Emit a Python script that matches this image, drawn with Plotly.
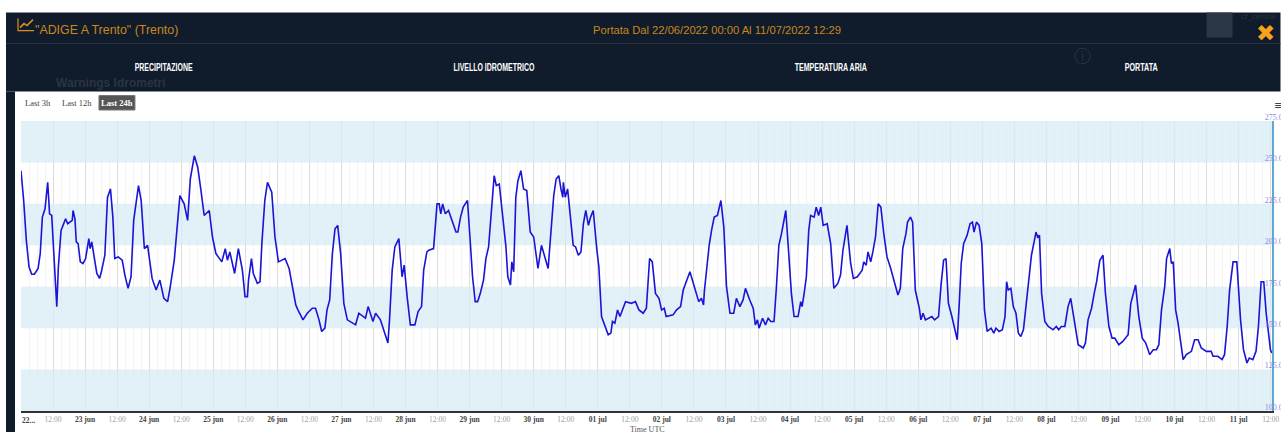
import pandas as pd
import plotly.graph_objects as go

W, H = 1281, 432
PLOT_L, PLOT_R, PLOT_T, PLOT_B = 21, 1272.5, 120.5, 410.7

# hours since 22/06/2022 00:00
hours = [0, 1, 2, 3, 4, 5, 6.4, 7.2, 8, 9, 10, 10.7, 11.5, 12.3, 13.4, 14, 15, 16.7, 17.5, 19.2,
         19.5, 20.2, 20.7, 21.4, 22.2, 23.2, 24.2, 25.4, 25.9, 26.5, 27.4, 28.4, 29.4, 30.1, 31.4, 32.4, 33.5, 34.4, 35.1, 36.4,
         37.9, 38.9, 40.1, 41.2, 42.2, 43.1, 44, 45, 46.2, 47.4, 49.1, 50.6, 52, 53.5, 54.9, 55.8, 57.4, 59.5, 61.1, 62.4,
         63.4, 64.9, 66.2, 67.4, 68.6, 70.5, 71.7, 73, 74.2, 75.2, 76.5, 77.3, 78.2, 80, 81.4, 82.9, 83.9, 84.8, 85.2, 86.3,
         87, 88.5, 89.5, 90.2, 91.3, 92.3, 93.9, 95.1, 96.4, 98.9, 100.4, 101.6, 102.9, 103.7, 105.6, 107.2, 109.1, 110.3, 111.6, 112.6,
         113.8, 114.6, 115.6, 116.6, 117.6, 118.6, 119.7, 120.9, 122.2, 125.3, 126.5, 129, 130, 131.8, 132.8, 134.6, 135.9, 137.4, 138, 139,
         140, 141.5, 142.7, 143.5, 144.6, 145.8, 147.5, 148.7, 150, 150.8, 152, 152.7, 154.5, 155.8, 156.6, 157.2, 157.9, 158.9, 160.1, 161.4,
         162.9, 163.6, 164.6, 165.6, 167.2, 168.2, 169.1, 170.1, 171, 172, 173.2, 174.1, 175.1, 177.2, 178, 179.1, 180.3, 181.6, 182.3, 183.3,
         183.8, 184.5, 185.3, 186.1, 187.2, 188.2, 189.4, 190.7, 192, 193.6, 194.9, 196.4, 197.4, 198.5, 199.5, 200.4, 201.4, 202.2, 202.9, 203.1,
         203.8, 204.7, 205.6, 206.8, 207.7, 208.7, 209.7, 210.6, 211.5, 212.5, 213.3, 214.3, 215.6, 216.4, 217.4, 218.7, 219.9, 220.9, 221.5, 222.4,
         223.4, 224.3, 226.4, 228.6, 230.1, 231.4, 233, 234.2, 234.6, 235.4, 236.4, 237.6, 238.9, 239.9, 240.9, 241.6, 244.2, 245.5, 247, 248,
         250.5, 252.3, 253.8, 254.8, 255.6, 255.9, 257.7, 258.6, 259.6, 260.8, 262.1, 263.2, 264.2, 265.5, 266.9, 267.9, 269.2, 270.4, 271.3, 272.9,
         274.2, 275, 275.8, 276.4, 277.7, 278.8, 279.8, 280.8, 282, 282.9, 283.8, 284.8, 286.4, 287.5, 288.5, 289.5, 291, 292, 292.5, 293.2,
         294.1, 295, 295.7, 297, 297.8, 298.7, 299.5, 300.4, 301.9, 303.2, 304.4, 305.9, 306.9, 307.8, 309.3, 310.7, 311.7, 313.2, 315, 315.6,
         316.5, 317.2, 318.2, 319, 320, 321, 322, 323.1, 324.3, 325.5, 327.4, 328.4, 329.3, 330.2, 331.4, 332, 333.1, 333.9, 334.9, 336.4,
         337, 337.8, 338.7, 341.1, 342.1, 343.6, 344.6, 345.5, 346.4, 347.3, 348.6, 349.6, 350.6, 351.3, 352.1, 353, 354.3, 355.4, 356.3, 356.9,
         357.8, 358.8, 359.8, 360.8, 361.8, 363.3, 364.3, 365.1, 366.3, 367.5, 368.5, 369.1, 369.7, 370.7, 371.6, 372.6, 373.5, 374.4, 375.4, 376.2,
         377.6, 378.4, 380.1, 380.7, 381.4, 382.2, 383.4, 384.7, 386.5, 387.7, 388.6, 389.6, 390.9, 392.1, 393.1, 394.6, 395.9, 397.8, 398.6, 399.6,
         400.9, 401.9, 402.8, 404, 405.2, 406.1, 407.4, 408.6, 409.6, 411.1, 412.6, 414.6, 415.6, 417.4, 418.6, 419.9, 421.2, 422.7, 424, 425.2,
         426.1, 427.1, 428.3, 429, 430.2, 430.8, 431.5, 432.4, 433.3, 435.2, 436.4, 438.3, 439.5, 440.8, 442, 443.9, 445.7, 446.4, 448.2, 449.8,
         450.7, 451.7, 452.6, 453.9, 455.3, 456.7, 457.8, 459.1, 460, 461.3, 462.5, 463.4, 464.4, 465.4, 466.3, 467.9, 468.4]

portata = [245, 227, 203, 187, 182.5, 182.5, 186, 195, 217, 222, 238, 219, 218, 191, 163, 187, 209, 216, 213, 215,
           221, 216, 202, 201, 190, 189, 192, 204, 198, 202, 194, 183, 180, 184, 194, 229, 234, 217, 192, 193,
           191, 182, 174, 181, 215, 226, 236, 227, 198, 200, 180, 173, 179, 168, 166, 174, 191, 230, 225, 215,
           240, 254, 247, 233, 218, 221, 205, 195, 192, 190, 198, 191, 196, 183, 198, 185, 169, 169, 179, 192,
           183, 177, 178, 201, 227, 238, 232, 205, 190, 192, 186, 176, 164, 161, 155, 159, 162, 162, 155, 148,
           150, 161, 167, 195, 210, 212, 195, 165, 155, 152, 159, 156, 163, 154, 159, 155, 148, 141, 155, 185,
           199, 204, 181, 188, 169, 152, 152, 160, 163, 185, 196, 197, 198, 225, 225, 219, 225, 219, 221, 215,
           208, 208, 217, 223, 227, 203, 181, 166, 166, 171, 179, 192, 199, 242, 236, 237, 217, 199, 181, 176,
           190, 184, 229, 239, 245, 234, 233, 208, 205, 186, 200, 192, 186, 209, 230, 240, 242, 234, 229, 238,
           229, 234, 219, 200, 199, 194, 196, 213, 221, 212, 217, 221, 198, 187, 157, 151, 146, 147, 154, 153,
           161, 157, 166, 165, 166, 161, 159, 162, 175, 192, 190, 171, 168, 161, 162, 157, 158, 161, 163, 173,
           184, 174, 166, 168, 164, 172, 200, 209, 217, 218, 227, 211, 175, 159, 159, 168, 163, 167, 174, 167,
           162, 152, 155, 150, 156, 152, 156, 154, 154, 175, 200, 207, 221, 195, 171, 157, 157, 166, 163, 170,
           181, 209, 218, 217, 223, 218, 223, 212, 213, 201, 174, 177, 182, 197, 212, 189, 180, 181, 185, 190,
           188, 196, 190, 196, 205, 225, 223, 207, 193, 187, 176, 170, 174, 198, 207, 214, 217, 214, 173, 162,
           155, 159, 155, 157, 155, 157, 177, 191, 192, 165, 157, 150, 143, 163, 189, 201, 206, 213, 214, 208,
           214, 212, 201, 161, 148, 150, 147, 150, 148, 149, 157, 178, 173, 174, 163, 159, 147, 145, 149, 161,
           181, 194, 208, 205, 206, 171, 154, 151, 149, 151, 149, 151, 151, 163, 168, 153, 140, 138, 141, 155,
           162, 171, 178, 191, 194, 171, 151, 144, 144, 140, 142, 146, 165, 176, 157, 144, 141, 134, 137, 137,
           140, 161, 175, 192, 198, 189, 190, 161, 153, 131, 134, 136, 143, 143, 138, 136, 136, 133, 133, 131,
           134, 151, 173, 190, 190, 155, 137, 129, 132, 131, 136, 151, 178, 178, 159, 137, 135]

y_ticks = [100, 125, 150, 175, 200, 225, 250, 275]
band_edges = [250, 275, 200, 225, 150, 175, 100, 125]
x_tick_labels = ["", "12:00", "23 jun", "12:00", "24 jun", "12:00", "25 jun", "12:00", "26 jun", "12:00",
                 "27 jun", "12:00", "28 jun", "12:00", "29 jun", "12:00", "30 jun", "12:00", "01 jul", "12:00",
                 "02 jul", "12:00", "03 jul", "12:00", "04 jul", "12:00", "05 jul", "12:00", "06 jul", "12:00",
                 "07 jul", "12:00", "08 jul", "12:00", "09 jul", "12:00", "10 jul", "12:00", "11 jul", "12:00"]
nav_labels = ["PRECIPITAZIONE", "LIVELLO IDROMETRICO", "TEMPERATURA ARIA", "PORTATA"]
nav_x = [164, 494, 831, 1142]

start = pd.Timestamp("2022-06-22 00:00")
end = start + pd.Timedelta(hours=468.48)
times = [start + pd.Timedelta(hours=h) for h in hours]
tick_times = [start + pd.Timedelta(hours=12 * i) for i in range(len(x_tick_labels))]


def px(x):
    return (x - PLOT_L) / (PLOT_R - PLOT_L)


def py(y):
    return (PLOT_B - y) / (PLOT_B - PLOT_T)


def fmt_tick(label):
    if label == "12:00":
        return f"<span style='color:#a0a0a0'>{label}</span>"
    return f"<b>{label}</b>"


def page_rect(x0, y0, x1, y1, color):
    return dict(type="rect", xref="paper", yref="paper", x0=px(x0), x1=px(x1), y0=py(y0), y1=py(y1),
                fillcolor=color, line_width=0, layer="below")


def page_text(x, y, text, color, size, family="Liberation Sans", **kw):
    return dict(xref="paper", yref="paper", x=px(x), y=py(y), text=text, showarrow=False,
                xanchor=kw.pop("xanchor", "center"), yanchor="middle",
                font=dict(family=family, size=size, color=color), **kw)


fig = go.Figure()
fig.add_trace(go.Scatter(x=times, y=portata, mode="lines", line=dict(color="#1a14d6", width=1.6),
                         showlegend=False))

shapes = [
    page_rect(6, 12, W, 91, "#101c2b"),
    page_rect(6, 91, 15, H, "#101c2b"),
    page_rect(1207, 12, 1233, 37, "#2b3744"),
    dict(type="line", xref="paper", yref="paper", x0=px(6), x1=px(W), y0=py(43), y1=py(43),
         line=dict(color="#2a3644", width=1), layer="below"),
    # trend icon in the header
    dict(type="path", xref="paper", yref="paper", layer="below", line=dict(color="#d98f1e", width=1.2),
         path=f"M {px(18)} {py(18)} L {px(18)} {py(30)} L {px(34)} {py(30)}"),
    dict(type="path", xref="paper", yref="paper", layer="below", line=dict(color="#d98f1e", width=1.6),
         path=f"M {px(20)} {py(27)} L {px(24)} {py(23)} L {px(27)} {py(25)} L {px(33)} {py(19)}"),
    dict(type="rect", xref="paper", yref="paper", x0=px(99), x1=px(135), y0=py(95), y1=py(109.5),
         fillcolor="#555555", line=dict(color="#777777", width=1), layer="below"),
]
# bands sit over the grid, slightly see-through so only the 12h lines show on them
for low, high in zip(band_edges[0::2], band_edges[1::2]):
    shapes.append(dict(type="rect", xref="x", yref="y", x0=start, x1=end, y0=low, y1=high,
                       fillcolor="rgba(216,235,244,0.75)", line_width=0, layer="between"))

annotations = [
    page_text(33, 29, '"ADIGE A Trento" (Trento)', "#c9871c", 12.4, xanchor="left"),
    page_text(717, 29, "Portata Dal 22/06/2022 00:00 Al 11/07/2022 12:29", "#c9871c", 11.2),
    page_text(1266, 32, "✖", "#f7a11c", 23, family="DejaVu Sans"),
    page_text(54, 82, "<b>Warnings Idrometri</b>", "#2a3440", 12, xanchor="left"),
    page_text(1083, 55, "ⓘ", "#2a3440", 17, family="DejaVu Sans"),
    page_text(1239, 16, "cf_central", "#2a3440", 8, xanchor="left"),
    page_text(38.5, 102, "Last 3h", "#444444", 8.5, family="Liberation Serif"),
    page_text(77, 102, "Last 12h", "#444444", 8.5, family="Liberation Serif"),
    page_text(117, 102, "<b>Last 24h</b>", "#ffffff", 8.5, family="Liberation Serif"),
    page_text(1279, 105, "≡", "#444444", 11, family="DejaVu Sans"),
    page_text(29, 420, "<b>22...</b>", "#444444", 7.5, family="Liberation Serif"),
    page_text(648, 429, "Time UTC", "#555555", 8, family="Liberation Serif"),
]
for label, x in zip(nav_labels, nav_x):
    annotations.append(page_text(x, 66, f"<b>{label}</b>", "#ffffff", 10.5, family="Liberation Sans"))

fig.update_layout(
    width=W,
    height=H,
    margin=dict(l=PLOT_L, r=W - PLOT_R, t=PLOT_T, b=H - PLOT_B, pad=0, autoexpand=False),
    paper_bgcolor="#ffffff",
    plot_bgcolor="rgba(0,0,0,0)",
    shapes=shapes,
    annotations=annotations,
    xaxis=dict(
        type="date",
        automargin=False,
        range=[start, end],
        tickmode="array",
        tickvals=tick_times,
        ticktext=[fmt_tick(t) for t in x_tick_labels],
        tickangle=0,
        tickfont=dict(family="Liberation Serif", size=7.5, color="#444444"),
        ticks="",
        showgrid=True,
        gridcolor="#dcdcdc",
        gridwidth=1,
        minor=dict(showgrid=True, gridcolor="#f3f3f3", gridwidth=1, dtick=3 * 3600000, tick0=start),
        showline=True,
        linecolor="#333333",
        linewidth=2,
        zeroline=False,
    ),
    yaxis=dict(
        automargin=False,
        range=[100, 275],
        side="right",
        tickmode="array",
        tickvals=y_ticks,
        ticktext=[f"{v:.1f}" for v in y_ticks],
        ticklabelposition="inside",
        ticklabeloverflow="allow",
        ticklabelshift=-4,
        ticklabelstandoff=-12,
        tickfont=dict(family="Liberation Serif", size=8, color="#8c8ce6"),
        ticks="",
        showgrid=False,
        showline=True,
        linecolor="#5fa8cf",
        linewidth=1.5,
        zeroline=False,
    ),
)

# the nav font is a condensed one that is not installed, so squeeze the text to its width
post_script = """
document.body.style.margin = '0';
document.body.style.overflow = 'hidden';
document.querySelectorAll('.main-svg').forEach(s => s.style.opacity = 0.999);
const navWidths = {'PRECIPITAZIONE': 58, 'LIVELLO IDROMETRICO': 81, 'TEMPERATURA ARIA': 72, 'PORTATA': 33};
document.querySelectorAll('.annotation-text').forEach(t => {
    const w = navWidths[t.textContent];
    if (w) { t.setAttribute('textLength', w); t.setAttribute('lengthAdjust', 'spacingAndGlyphs'); }
});
"""
fig.write_html("out.html", config=dict(displayModeBar=False), post_script=post_script)
